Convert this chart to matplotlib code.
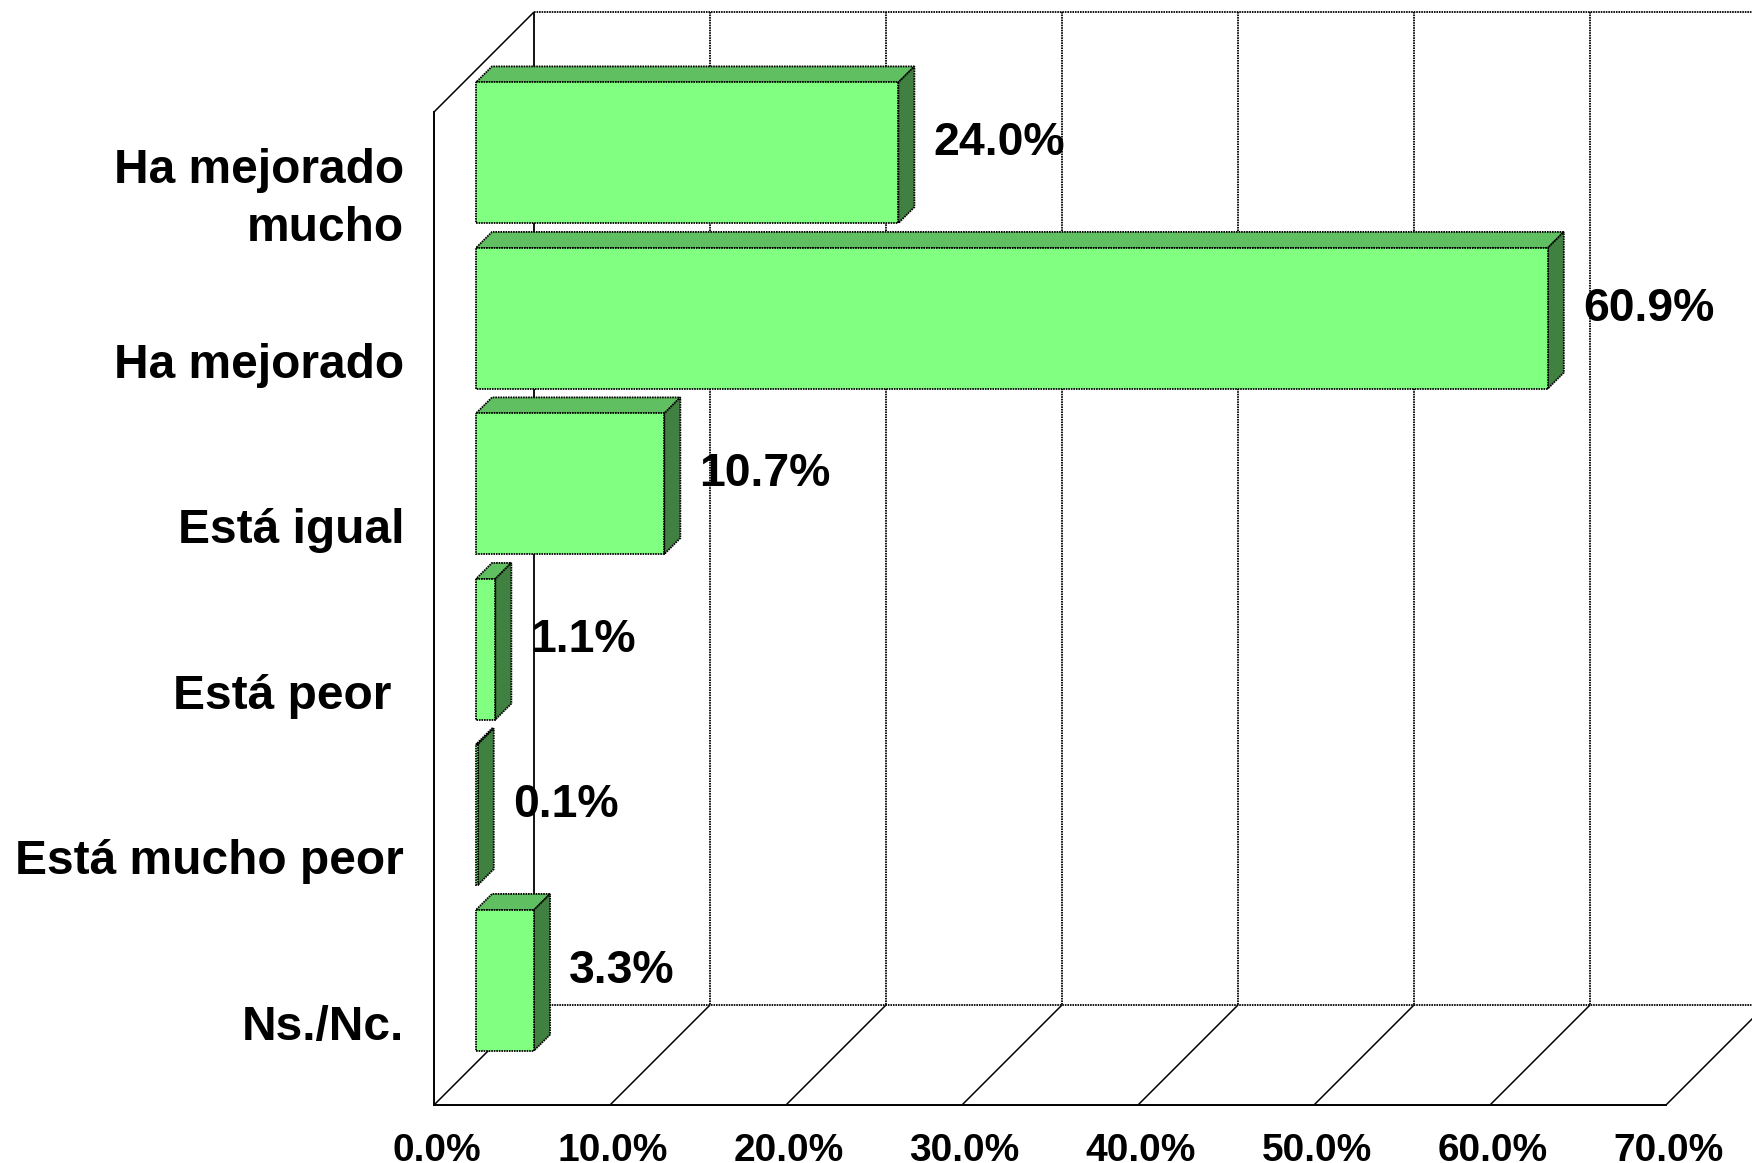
import numpy as np
import matplotlib
matplotlib.use("Agg")
import matplotlib.pyplot as plt
from matplotlib.patches import Polygon
from matplotlib.transforms import ScaledTranslation

plt.rcParams['font.family'] = ['Liberation Sans', 'DejaVu Sans']
plt.rcParams['font.weight'] = 'bold'

# --- data ---
categories = ["Ha mejorado\nmucho", "Ha mejorado", "Está igual", "Está peor ", "Está mucho peor", "Ns./Nc."]
values = [24.0, 60.9, 10.7, 1.1, 0.1, 3.3]
grid_values = [0, 10, 20, 30, 40, 50, 60, 70]

# --- fake 3D settings (pixels at 100 dpi) ---
W, H = 1752, 1163
LEFT, RIGHT, TOP, BOTTOM = 434, 1666, 112, 1105
WALL_DEPTH = 100
BAR_FRONT = 42
BAR_BACK = 58
BAR_HEIGHT = 0.85

FACE = '#80FF80'
TOP_FACE = '#60BF60'
SIDE_FACE = '#408040'
DOTS = (0, (0.9, 0.5))

px_x = (RIGHT - LEFT) / 70
px_y = (BOTTOM - TOP) / 6


def project(x, y, depth):
    """Data position pushed back by depth pixels along the 45 degree axis."""
    return x + depth / px_x, y - depth / px_y


def line3d(ax, p1, p2, **kw):
    x1, y1 = project(*p1)
    x2, y2 = project(*p2)
    ax.plot([x1, x2], [y1, y2], color='black', clip_on=False, solid_capstyle='butt', **kw)


fig = plt.figure(figsize=(W / 100, H / 100), dpi=100)
ax = fig.add_axes([LEFT / W, (H - BOTTOM) / H, (RIGHT - LEFT) / W, (BOTTOM - TOP) / H])
ax.set_xlim(0, 70)
ax.set_ylim(6, 0)

for s in ['top', 'right']:
    ax.spines[s].set_visible(False)
for s in ['left', 'bottom']:
    ax.spines[s].set_linewidth(1.4)

# walls and floor
line3d(ax, (0, 0, 0), (0, 0, WALL_DEPTH), lw=1.1, zorder=1)
line3d(ax, (0, 0, WALL_DEPTH), (70, 0, WALL_DEPTH), lw=1.3, ls=DOTS, zorder=1)
line3d(ax, (0, 6, WALL_DEPTH), (70, 6, WALL_DEPTH), lw=1.3, ls=DOTS, zorder=1)
for g in grid_values:
    line3d(ax, (g, 6, 0), (g, 6, WALL_DEPTH), lw=1.1, zorder=1)
    if g == 0:
        line3d(ax, (g, 0, WALL_DEPTH), (g, 6, WALL_DEPTH), lw=1.3, zorder=1)
    else:
        line3d(ax, (g, 0, WALL_DEPTH), (g, 6, WALL_DEPTH), lw=1.3, ls=DOTS, zorder=1)

# bars
centers = np.arange(len(values)) + 0.5
for c, v in zip(centers, values):
    x0, yc = project(0, c, BAR_FRONT)
    y_top = c - BAR_HEIGHT / 2
    y_bot = c + BAR_HEIGHT / 2
    edge = dict(edgecolor='black', linewidth=1.3, linestyle=DOTS, zorder=3, clip_on=False)
    top = [project(0, y_top, BAR_FRONT), project(v, y_top, BAR_FRONT),
           project(v, y_top, BAR_BACK), project(0, y_top, BAR_BACK)]
    side = [project(v, y_top, BAR_FRONT), project(v, y_bot, BAR_FRONT),
            project(v, y_bot, BAR_BACK), project(v, y_top, BAR_BACK)]
    ax.add_patch(Polygon(top, facecolor=TOP_FACE, **edge))
    ax.add_patch(Polygon(side, facecolor=SIDE_FACE, **edge))
    ax.barh(yc, v, left=x0, height=BAR_HEIGHT, color=FACE, **edge)
    # value label
    ax.annotate(f"{v:.1f}%", xy=(x0 + v, yc), xytext=(35 * 0.72, 9.5 * 0.72),
                textcoords='offset points', ha='left', va='center',
                fontsize=33.4, fontweight='bold', color='black', zorder=5,
                annotation_clip=False)

# axis labels
ax.set_yticks(centers)
ax.set_yticklabels(categories, fontsize=34.5, fontweight='bold', linespacing=1.37, ha='right')
ax.set_xticks(grid_values)
ax.set_xticklabels([f"{g:.1f}%" for g in grid_values], fontsize=28, fontweight='bold')
ax.tick_params(axis='y', length=0, pad=21.5)
ax.tick_params(axis='x', length=0, pad=20)
shift = ScaledTranslation(2.5 / 100, 0, fig.dpi_scale_trans)
for lab in ax.get_xticklabels():
    lab.set_clip_on(False)
    lab.set_transform(lab.get_transform() + shift)

# two line label sits a bit higher in the original
first = ax.get_yticklabels()[0]
first.set_transform(first.get_transform() + ScaledTranslation(0, 6.7 / 100, fig.dpi_scale_trans))

fig.savefig("out.png", dpi=100, facecolor='white')
